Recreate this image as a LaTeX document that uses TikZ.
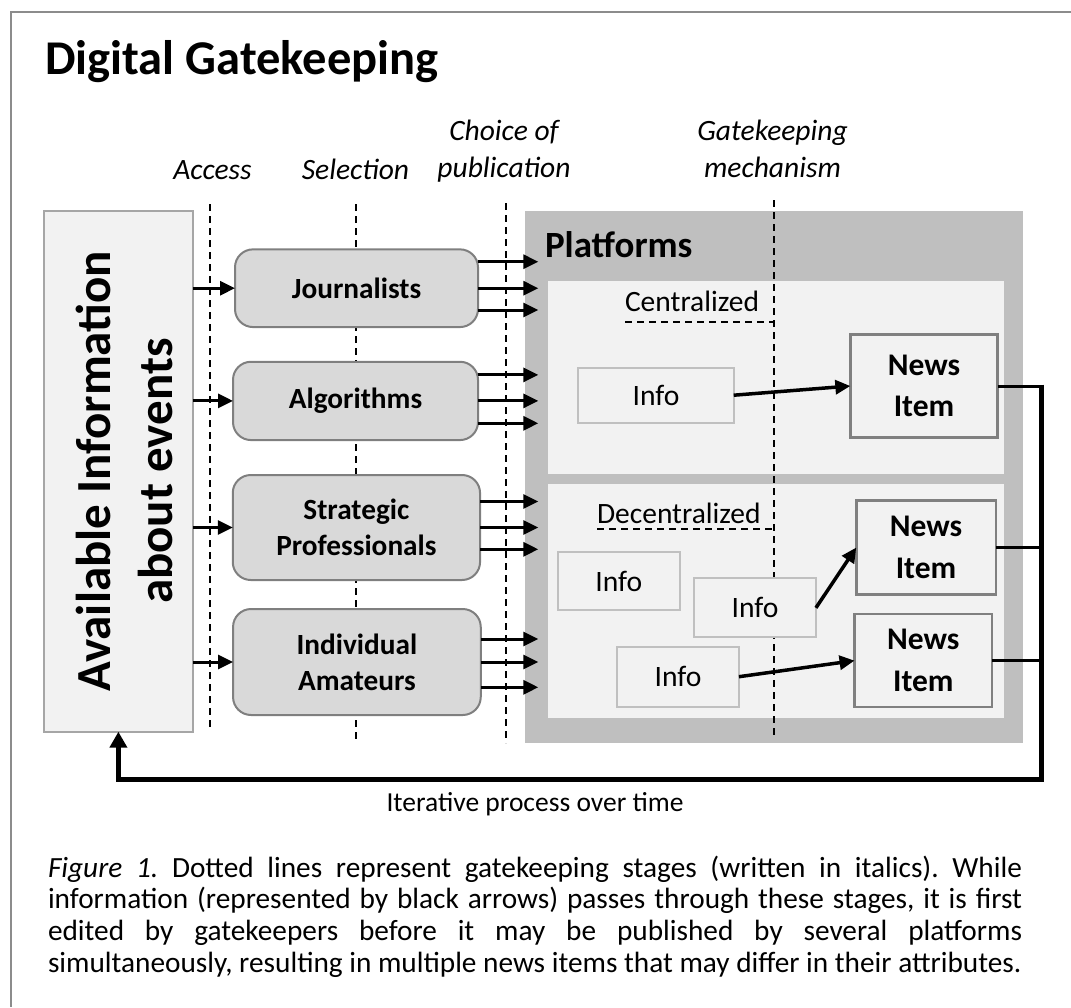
\documentclass[tikz,border=0pt]{standalone}
\usepackage{fontspec}
\setmainfont{Carlito}
\usetikzlibrary{arrows.meta}
\frenchspacing

\definecolor{panel}{HTML}{F2F2F2}
\definecolor{platgray}{HTML}{BFBFBF}
\definecolor{actorfill}{HTML}{D9D9D9}
\definecolor{actorline}{HTML}{7F7F7F}
\definecolor{availline}{HTML}{A6A6A6}
\definecolor{infoline}{HTML}{C0C0C0}
\definecolor{newsline}{HTML}{808080}
\definecolor{framegray}{HTML}{8C8C8C}

\begin{document}
\begin{tikzpicture}[x=1pt,y=-1pt,
  every node/.style={inner sep=0pt, outer sep=0pt},
  stage/.style={draw=black, line width=1.8pt, dash pattern=on 7pt off 5pt},
  stagelabel/.style={font=\fontsize{29.5}{35}\selectfont\itshape, anchor=base},
  actor/.style={draw=actorline, line width=2pt, fill=actorfill, rounded corners=18pt,
    align=center, font=\fontsize{29.3}{36}\selectfont\bfseries},
  flow/.style={line width=3pt, -{Triangle[length=15pt,width=14pt]}},
  infobox/.style={draw=infoline, line width=2pt, fill=panel, font=\fontsize{29.6}{35}\selectfont},
  newsbox/.style={draw=newsline, line width=2.5pt, fill=panel, align=center,
    font=\fontsize{31.5}{41.5}\selectfont\bfseries},
  feed/.style={line width=3pt},
]
\useasboundingbox (0,0) rectangle (1071,1007);

% outer frame
\draw[framegray, line width=2pt] (1071,12) -- (11,12) -- (11,1007);

% title
\node[anchor=base west, font=\fontsize{48.5}{58}\selectfont\bfseries] (title) at (45,74) {Digital Gatekeeping};

% platform area and its two panels
\node[fill=platgray, minimum width=498pt, minimum height=532.3pt] (P) at (774,477.2) {};
\node[fill=panel, minimum width=455.7pt, minimum height=193pt] (cpanel) at (776.2,377.5) {};
\node[fill=panel, minimum width=455.7pt, minimum height=233.7pt] (dpanel) at (776.2,600.9) {};
\node[anchor=base west, font=\fontsize{37}{44}\selectfont\bfseries] (plat) at (545,257) {Platforms};

% gatekeeping stages
\node[stagelabel] (lacc) at (212.5,179.5) {Access};
\node[stagelabel] (lsel) at (355.5,179.5) {Selection};
\node[stagelabel] (lcho1) at (504,140.5) {Choice of};
\node[stagelabel] (lcho2) at (504,177.5) {publication};
\node[stagelabel] (lgk1) at (772.5,140.5) {Gatekeeping};
\node[stagelabel] (lgk2) at (772.5,177.5) {mechanism};

\draw[stage] (210,204) -- (210,731);
\draw[stage] (356,204) -- (356,740);
\draw[stage] (505.7,203) -- (505.7,743);
\draw[stage] (773.6,200) -- (773.6,738);

% centralized / decentralized labels with their dashed underlines
\node[anchor=base west, font=\fontsize{29.5}{35}\selectfont] (ctext) at (625,311.7) {Centralized};
\draw[stage] (625,321.7) -- (773.6,321.7);
\node[anchor=base west, font=\fontsize{29.5}{35}\selectfont] (dtext) at (597,523.3) {Decentralized};
\draw[stage] (597,529) -- (773.6,529);

% source of information
\node[draw=availline, line width=2pt, fill=panel, minimum width=148.7pt, minimum height=521pt] (avail) at (118.4,471.2) {};
\node[rotate=90, align=center, font=\fontsize{49}{61.6}\selectfont\bfseries] (availtext)
  at ([xshift=6.3pt]avail.center) {Available Information\\about events};

% gatekeepers
\node[actor, minimum width=243pt, minimum height=77.7pt] (J) at (356.5,288.2) {Journalists};
\node[actor, minimum width=245pt, minimum height=78.3pt] (A) at (355.5,400.9) {Algorithms};
\node[actor, minimum width=247.3pt, minimum height=105pt] (S) at (356.4,527.5) {Strategic\\Professionals};
\node[actor, minimum width=247.7pt, minimum height=106pt] (I) at (356.9,662) {Individual\\Amateurs};

% information flowing to the gatekeepers and on to the platforms
\foreach \b/\u/\d in {J/26.5/21.8, A/26/22.4, S/26/21.8, I/23/25.3} {
  \draw[flow] (avail.east |- \b.west) -- (\b.west);
  \foreach \o in {\u, 0, -\d}
    \draw[flow] ([yshift=\o pt]\b.east) -- ([yshift=\o pt, xshift=13.3pt]\b.east -| P.west);
}

% items on the platforms
\node[infobox, minimum width=155.4pt, minimum height=55pt] (info0) at (656,395.2) {Info};
\node[newsbox, minimum width=147.3pt, minimum height=102.6pt] (news0) at (924,386) {News\\Item};
\node[infobox, minimum width=121.9pt, minimum height=57.7pt] (info1) at (618.8,581.2) {Info};
\node[infobox, minimum width=121.9pt, minimum height=59pt] (info2) at (755,607.8) {Info};
\node[infobox, minimum width=121.9pt, minimum height=60pt] (info3) at (678,676.7) {Info};
\node[newsbox, minimum width=139.5pt, minimum height=93.6pt] (news2) at (926,547.5) {News\\Item};
\node[newsbox, minimum width=137.5pt, minimum height=93.2pt] (news3) at (923.3,660.6) {News\\Item};

\draw[line width=3.5pt, -{Triangle[length=15pt,width=14pt]}] (info0.east) -- (news0.west);
\draw[line width=3.5pt, -{Triangle[length=15pt,width=14pt]}] (info2.east) -- (news2.west);
\draw[line width=3.5pt, -{Triangle[length=15pt,width=14pt]}] (info3.east) -- (news3.west);

% feedback loop
\coordinate (fb) at (1041,779);
\draw[feed] (news0.east) -- (news0.east -| fb);
\draw[feed] (news2.east) -- (news2.east -| fb);
\draw[feed] (news3.east) -- (news3.east -| fb);
\draw[line width=5pt, -{Triangle[length=16pt,width=17pt]}]
  ([yshift=1.5pt]news0.east -| fb) -- (fb) -- (fb -| avail.south) -- (avail.south);
\node[anchor=base, font=\fontsize{27.5}{33}\selectfont] (iter) at (535,811) {Iterative process over time};

% caption
\node[anchor=base west, text width=974pt, align=justify, font=\fontsize{29.3}{31.7}\selectfont] (caption) at (48,877)
  {\parfillskip=0pt \hyphenpenalty=10000 \frenchspacing
   \textit{Figure 1.} Dotted lines represent gatekeeping stages (written in italics). While\linebreak
   information (represented by black arrows) passes through these stages, it is first\linebreak
   edited by gatekeepers before it may be published by several platforms\linebreak
   simultaneously, resulting in multiple news items that may differ in their attributes.};
\end{tikzpicture}
\end{document}
